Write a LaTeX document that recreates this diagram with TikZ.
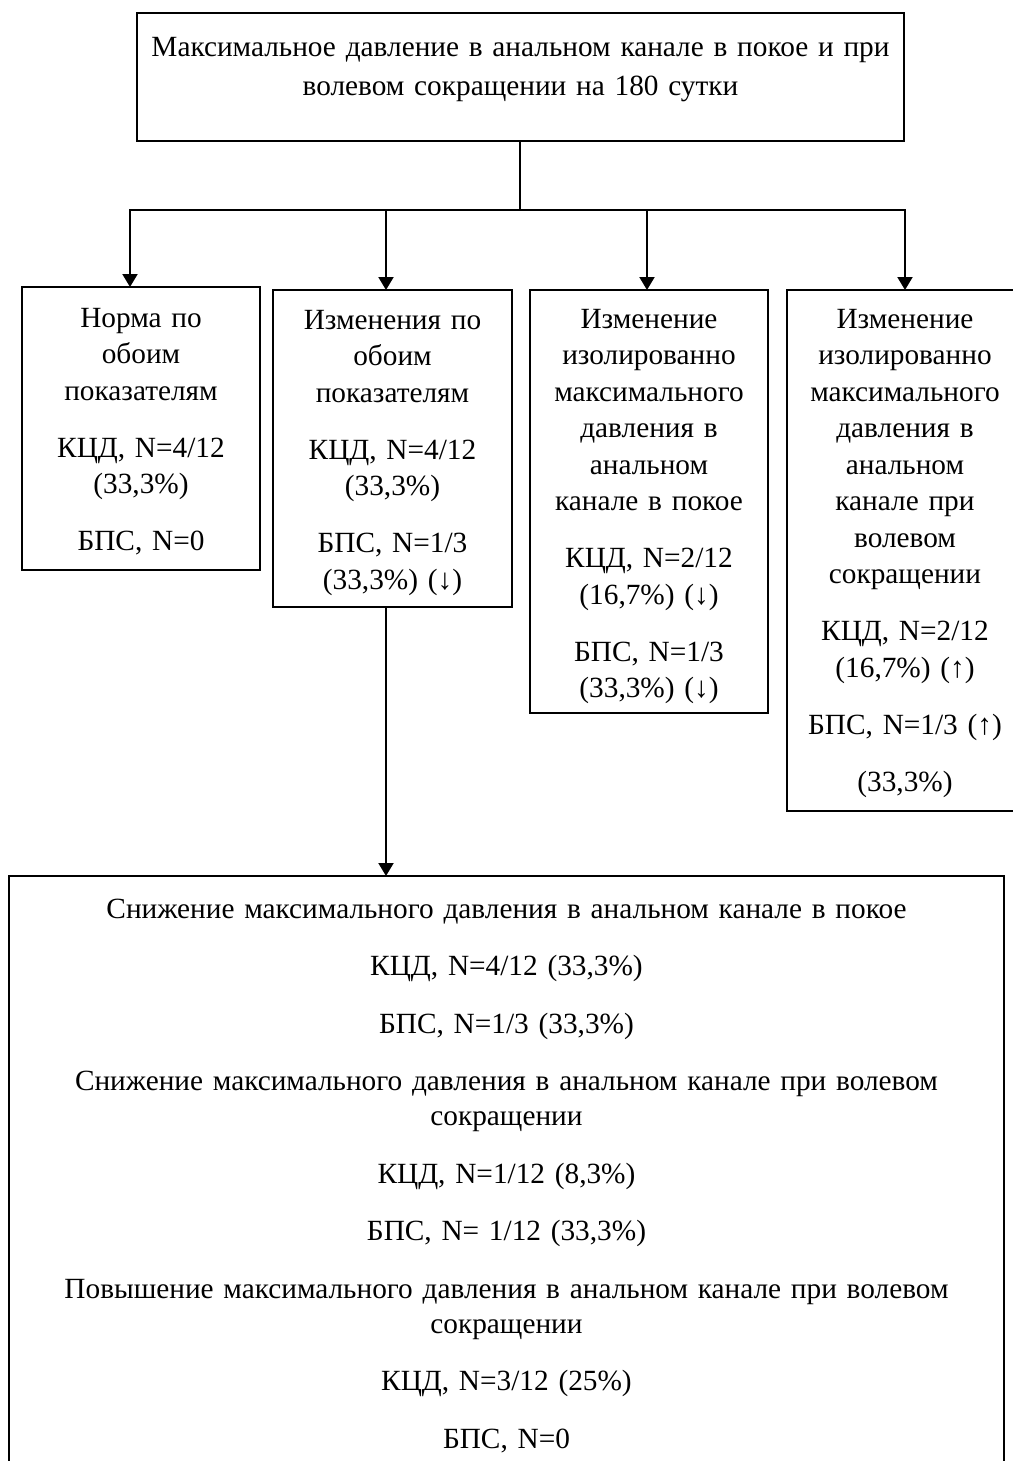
\documentclass[tikz,border=0pt]{standalone}
\usepackage{fontspec}
\setmainfont{Liberation Serif}
\usetikzlibrary{arrows.meta}
\begin{document}
\begin{tikzpicture}[x=1pt,y=-1pt,
  box/.style={draw, line width=2pt, rectangle, inner sep=0pt, outer sep=0pt, anchor=north west},
  txt/.style={inner sep=0pt, align=center, anchor=base, text width=#1,
    font=\fontsize{29.3}{36.5}\selectfont},
  txt/.default=300pt,
  conn/.style={line width=2pt},
  arr/.style={conn, -{Triangle[width=15pt,length=13pt]}}]
\useasboundingbox (0,0) rectangle (1012,1461);
\fill[white] (0,0) rectangle (1012,1461);

% boxes
\node[box, minimum width=767pt, minimum height=128pt] (top) at (137,13) {};
\node[box, minimum width=238pt, minimum height=283pt] (b1) at (22,287) {};
\node[box, minimum width=239pt, minimum height=317pt] (b2) at (273,290) {};
\node[box, minimum width=238pt, minimum height=423pt] (b3) at (530,290) {};
\node[box, minimum width=236pt, minimum height=521pt] (b4) at (787,290) {};
\node[box, minimum width=995pt, minimum height=640pt] (bot) at (9,876) {};

% texts
\node[txt=900pt] (t0) at ([yshift=-44pt]top.north)
  {Максимальное давление в анальном канале в покое и при\\[2.5pt]
   волевом сокращении на 180 сутки};
\node[txt] (t1) at ([yshift=-40pt]b1.north)
  {Норма по\\ обоим\\ показателям\\[20.5pt]
   КЦД, N=4/12\\ (33,3\%)\\[20.5pt]
   БПС, N=0};
\node[txt] (t2) at ([yshift=-39pt]b2.north)
  {Изменения по\\ обоим\\ показателям\\[20.5pt]
   КЦД, N=4/12\\ (33,3\%)\\[20.5pt]
   БПС, N=1/3\\ (33,3\%) (↓)};
\node[txt] (t3) at ([yshift=-38pt]b3.north)
  {Изменение\\ изолированно\\ максимального\\ давления в\\ анальном\\ канале в покое\\[20.5pt]
   КЦД, N=2/12\\ (16,7\%) (↓)\\[20.5pt]
   БПС, N=1/3\\ (33,3\%) (↓)};
\node[txt] (t4) at ([yshift=-38pt]b4.north)
  {Изменение\\ изолированно\\ максимального\\ давления в\\ анальном\\ канале при\\ волевом\\ сокращении\\[20.5pt]
   КЦД, N=2/12\\ (16,7\%) (↑)\\[20.5pt]
   БПС, N=1/3 (↑)\\[20.5pt]
   (33,3\%)};
\node[txt=980pt, font=\fontsize{29.3}{35}\selectfont] (t5) at ([yshift=-42pt]bot.north)
  {Снижение максимального давления в анальном канале в покое\\[22.5pt]
   КЦД, N=4/12 (33,3\%)\\[22.5pt]
   БПС, N=1/3 (33,3\%)\\[22.5pt]
   Снижение максимального давления в анальном канале при волевом\\
   сокращении\\[22.5pt]
   КЦД, N=1/12 (8,3\%)\\[22.5pt]
   БПС, N= 1/12 (33,3\%)\\[22.5pt]
   Повышение максимального давления в анальном канале при волевом\\
   сокращении\\[22.5pt]
   КЦД, N=3/12 (25\%)\\[22.5pt]
   БПС, N=0};

% connectors
\coordinate (j) at (520,210);
\coordinate (c1) at (130,210);
\coordinate (c2) at (386,210);
\coordinate (c3) at (647,210);
\coordinate (c4) at (905,210);
\draw[conn] (top.south -| j) -- (j);
\draw[arr] (j) -| (c1 |- b1.north);
\draw[arr] (j) -| (c4 |- b4.north);
\draw[arr] (c2) -- (c2 |- b2.north);
\draw[arr] (c3) -- (c3 |- b3.north);
\draw[arr] (b2.south -| c2) -- (c2 |- bot.north);
\end{tikzpicture}
\end{document}
